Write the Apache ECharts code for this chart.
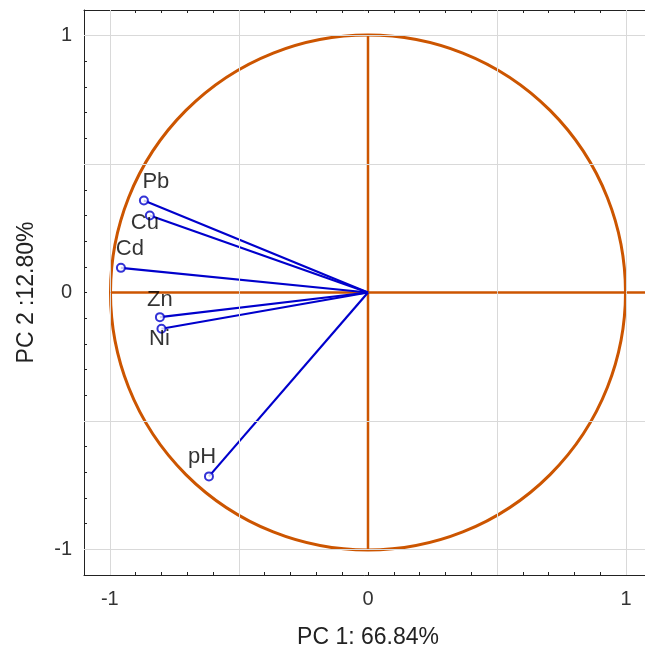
<!DOCTYPE html>
<html>
<head>
<meta charset="utf-8">
<script src="https://cdn.jsdelivr.net/npm/echarts@6/dist/echarts.min.js"></script>
<style>html,body{margin:0;padding:0;background:#fff}#c{width:645px;height:657px}</style>
</head>
<body>
<div id="c"></div>
<script>
// Data
const variables = ['Pb', 'Cu', 'Cd', 'Zn', 'Ni', 'pH'];
const pc1 = [-0.868, -0.845, -0.957, -0.806, -0.800, -0.616];
const pc2 = [0.358, 0.300, 0.096, -0.096, -0.141, -0.716];
const xTickLabels = [-1, 0, 1];
const yTickLabels = [-1, 0, 1];
const gridValues = [-1, -0.5, 0.5, 1];
const circleRadius = 1;
const xAxisName = 'PC 1: 66.84%';
const yAxisName = 'PC 2 :12.80%';

// Label placement (style, not data)
const labelOffsets = {Pb: [12, -19], Cu: [-5, 7], Cd: [9, -19], Zn: [0, -17], Ni: [-2, 10], pH: [-7, -19]};

const ORANGE = '#cc5500';
const BLUE = '#0000cc';
const FONT = 'Liberation Sans, Arial, sans-serif';

const chart = echarts.init(document.getElementById('c'), null, {renderer: 'canvas'});

function labelFmt(list) {
  return function (v) {
    for (const t of list) if (Math.abs(v - t) < 1e-6) return String(t);
    return '';
  };
}

const axisCommon = {
  type: 'value', min: -1.1, max: 1.1, interval: 0.1,
  axisLine: {show: true, onZero: false, lineStyle: {color: '#222', width: 1}},
  axisTick: {show: true, inside: true, length: 3, lineStyle: {color: '#222'}},
  splitLine: {show: false}
};

const series = [];
// grid lines
series.push({
  type: 'line', data: [[0, 0]], symbol: 'none', silent: true, z: 1,
  lineStyle: {opacity: 0},
  markLine: {
    silent: true, symbol: 'none', label: {show: false}, animation: false,
    lineStyle: {color: '#d9d9d9', type: 'solid', width: 1},
    data: gridValues.map(v => ({xAxis: v})).concat(gridValues.map(v => ({yAxis: v})))
  }
});
// unit circle
series.push({
  type: 'custom', silent: true, z: 3,
  data: [[0, 0, circleRadius]],
  renderItem: function (params, api) {
    const c = api.coord([api.value(0), api.value(1)]);
    const rx = api.coord([api.value(2), 0])[0] - c[0];
    const ry = c[1] - api.coord([0, api.value(2)])[1];
    return {
      type: 'circle',
      shape: {cx: c[0], cy: c[1], r: (rx + ry) / 2},
      style: {fill: 'none', stroke: ORANGE, lineWidth: 3}
    };
  }
});
// orange cross
series.push({type: 'line', data: [[-1, 0], [1.1, 0]], symbol: 'none', silent: true, z: 3,
  lineStyle: {color: ORANGE, width: 2.5}});
series.push({type: 'line', data: [[0, -1], [0, 1]], symbol: 'none', silent: true, z: 3,
  lineStyle: {color: ORANGE, width: 2.5}});
// vectors
variables.forEach((v, i) => {
  series.push({type: 'line', data: [[0, 0], [pc1[i], pc2[i]]], symbol: 'none', silent: true, z: 4,
    lineStyle: {color: BLUE, width: 2.2}});
});
// endpoints with labels
series.push({
  type: 'scatter', z: 5, symbol: 'emptyCircle', symbolSize: 8,
  itemStyle: {color: BLUE, borderColor: BLUE, borderWidth: 1},
  data: variables.map((v, i) => ({
    name: v, value: [pc1[i], pc2[i]],
    label: {offset: labelOffsets[v]}
  })),
  label: {show: true, position: 'inside', formatter: '{b}', color: '#000', fontSize: 22, fontFamily: FONT,
    textBorderWidth: 0, textBorderColor: 'transparent'}
});

chart.setOption({
  animation: false,
  backgroundColor: '#fff',
  grid: {left: 84, top: 10, width: 568, height: 565, containLabel: false, outerBoundsMode: 'none'},
  xAxis: [
    Object.assign({}, axisCommon, {
      position: 'bottom',
      name: xAxisName, nameLocation: 'middle', nameGap: 51,
      nameTextStyle: {fontSize: 23, color: '#222', fontFamily: FONT},
      axisLabel: {show: true, formatter: labelFmt(xTickLabels), fontSize: 20, color: '#333', margin: 14, fontFamily: FONT,
        showMinLabel: true, showMaxLabel: true, hideOverlap: false}
    }),
    Object.assign({}, axisCommon, {position: 'top', axisLabel: {show: false}})
  ],
  yAxis: [
    Object.assign({}, axisCommon, {
      position: 'left',
      name: yAxisName, nameLocation: 'middle', nameGap: 46, nameRotate: 90,
      nameTextStyle: {fontSize: 23, color: '#222', fontFamily: FONT},
      axisLabel: {show: true, formatter: labelFmt(yTickLabels), fontSize: 20, color: '#333', margin: 12, fontFamily: FONT,
        hideOverlap: false}
    })
  ],
  series: series
});
</script>
</body>
</html>
